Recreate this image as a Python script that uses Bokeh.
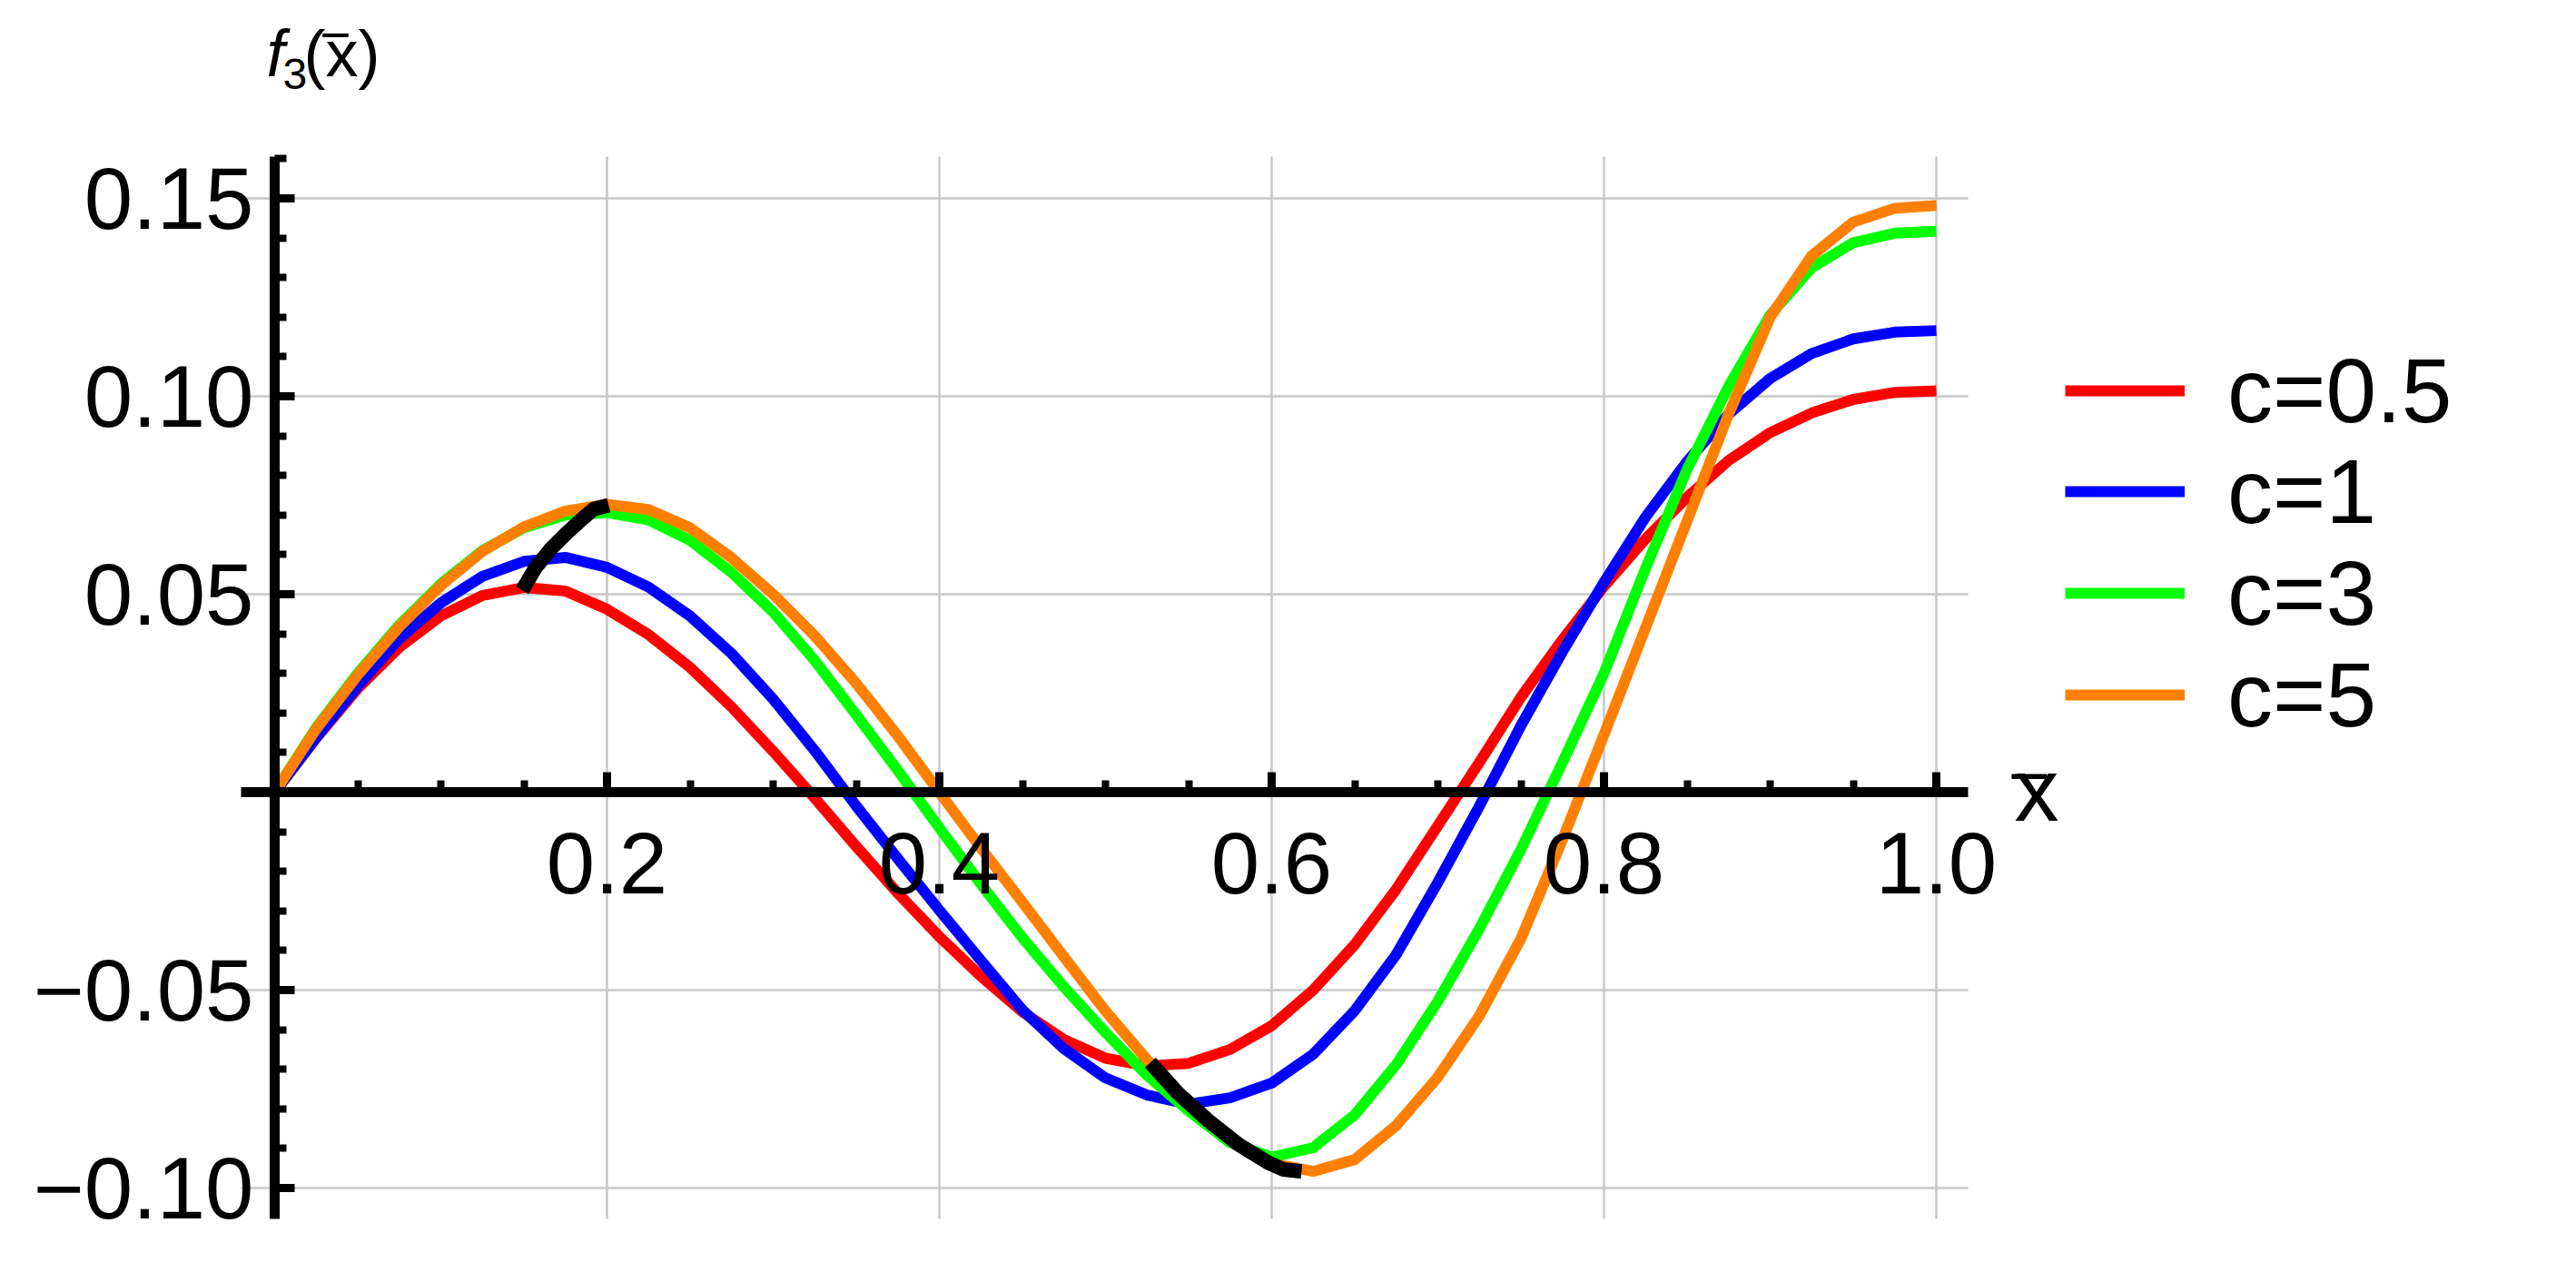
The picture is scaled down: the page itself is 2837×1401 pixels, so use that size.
from bokeh.plotting import figure
from bokeh.models import FixedTicker, Label, Legend, LegendItem, Range1d, Grid
from bokeh.embed import file_html
from bokeh.resources import INLINE

# ---------------- data ----------------
xs = [0.0, 0.025, 0.05, 0.075, 0.1, 0.125, 0.15, 0.175, 0.2, 0.225,
      0.25, 0.275, 0.3, 0.325, 0.35, 0.375, 0.4, 0.425, 0.45, 0.475,
      0.5, 0.525, 0.55, 0.575, 0.6, 0.625, 0.65, 0.675, 0.7, 0.725,
      0.75, 0.775, 0.8, 0.825, 0.85, 0.875, 0.9, 0.925, 0.95, 0.975, 1.0]

f_c05 = [0.0, 0.0137, 0.0262, 0.0366, 0.0445, 0.0497, 0.0517, 0.0508, 0.0462, 0.0398,
         0.0315, 0.0215, 0.0103, -0.0015, -0.0137, -0.0255, -0.0365, -0.0465, -0.0555, -0.0625,
         -0.0672, -0.0692, -0.0685, -0.0650, -0.0590, -0.0500, -0.0385, -0.0245, -0.0085, 0.0075,
         0.0240, 0.0385, 0.0520, 0.0640, 0.0745, 0.0838, 0.0908, 0.0958, 0.0992, 0.1010, 0.1014]

f_c1 = [0.0, 0.0138, 0.0268, 0.0388, 0.0478, 0.0545, 0.0583, 0.0593, 0.0568, 0.0518,
        0.0445, 0.0350, 0.0235, 0.0105, -0.0035, -0.0168, -0.0298, -0.0425, -0.0550, -0.0648,
        -0.0722, -0.0765, -0.0788, -0.0772, -0.0735, -0.0662, -0.0552, -0.0410, -0.0228, -0.0035,
        0.0168, 0.0355, 0.0530, 0.0695, 0.0835, 0.0955, 0.1045, 0.1108, 0.1145, 0.1162, 0.1166]

f_c3 = [0.0, 0.0163, 0.0300, 0.0422, 0.0526, 0.0610, 0.0668, 0.0700, 0.0706, 0.0688,
        0.0636, 0.0555, 0.0455, 0.0333, 0.0195, 0.0055, -0.0090, -0.0232, -0.0368, -0.0492,
        -0.0607, -0.0715, -0.0805, -0.0885, -0.0922, -0.0898, -0.0815, -0.0688, -0.0528, -0.0345,
        -0.0145, 0.0075, 0.0300, 0.0565, 0.0815, 0.1025, 0.1205, 0.1325, 0.1388, 0.1412, 0.1417]

f_c5 = [0.0, 0.0160, 0.0296, 0.0418, 0.0522, 0.0608, 0.0670, 0.0710, 0.0727, 0.0714,
        0.0668, 0.0592, 0.0500, 0.0395, 0.0275, 0.0142, 0.0, -0.0141, -0.0278, -0.0416,
        -0.0553, -0.0676, -0.0788, -0.0876, -0.0938, -0.0958, -0.0928, -0.0842, -0.0720, -0.0565,
        -0.0370, -0.0120, 0.0145, 0.0415, 0.0685, 0.0955, 0.1200, 0.1355, 0.1440, 0.1475, 0.1482]

# black loci of the extrema
max_locus_x = [0.149, 0.157, 0.1665, 0.1756, 0.1847, 0.192, 0.201]
max_locus_y = [0.0510, 0.0567, 0.0616, 0.0654, 0.0689, 0.0715, 0.0725]
min_locus_x = [0.527, 0.5435, 0.5617, 0.580, 0.598, 0.607, 0.618]
min_locus_y = [-0.0683, -0.0760, -0.0829, -0.0890, -0.0936, -0.0953, -0.0958]

series_labels = ["c=0.5", "c=1", "c=3", "c=5"]
series_colors = ["#ff0000", "#0000ff", "#00ff00", "#ff8000"]

x_ticks = [0.2, 0.4, 0.6, 0.8, 1.0]
x_tick_labels = ["0.2", "0.4", "0.6", "0.8", "1.0"]
y_ticks = [-0.10, -0.05, 0.05, 0.10, 0.15]
y_tick_labels = ["\u22120.10", "\u22120.05", "0.05", "0.10", "0.15"]

# plot region (extent of axes and grid lines)
x_lo, x_hi = -0.0202, 1.019
y_lo, y_hi = -0.1078, 0.1606

FONT = "Liberation Sans"
FS = "96px"
LEG_FS = "100px"

W, H = 2829, 1393
# 1830 px per unit in x (origin at 302 px), 4360 px per unit in y (origin at 872 px)
p = figure(width=W, height=H, output_backend="svg", toolbar_location=None,
           x_range=Range1d(-302 / 1830.0, (W - 302) / 1830.0),
           y_range=Range1d((872 - H) / 4360.0, 872 / 4360.0),
           min_border=0, min_border_left=0, min_border_right=0,
           min_border_top=0, min_border_bottom=0, title=None)
p.outline_line_color = None
p.background_fill_color = "white"
p.border_fill_color = "white"

x_minor = [round(0.05 * i, 2) for i in range(1, 21) if i % 4 != 0]
y_minor = [round(0.01 * i, 2) for i in range(-10, 17) if i % 5 != 0]

for ax in (p.xaxis[0], p.yaxis[0]):
    ax.fixed_location = 0
    ax.axis_line_width = 11
    ax.axis_line_color = "black"
    ax.major_tick_in = 22
    ax.major_tick_out = 0
    ax.minor_tick_in = 13
    ax.minor_tick_out = 0
    ax.major_tick_line_width = 9
    ax.minor_tick_line_width = 8
    ax.major_tick_line_color = "black"
    ax.minor_tick_line_color = "black"
    ax.major_label_text_font = FONT
    ax.major_label_text_font_size = FS
    ax.major_label_text_color = "black"

p.xaxis[0].bounds = (x_lo, x_hi)
p.yaxis[0].bounds = (y_lo, y_hi)
p.xaxis[0].ticker = FixedTicker(ticks=x_ticks, minor_ticks=x_minor)
p.yaxis[0].ticker = FixedTicker(ticks=y_ticks, minor_ticks=y_minor)
p.xaxis[0].major_label_overrides = dict(zip(x_ticks, x_tick_labels))
p.yaxis[0].major_label_overrides = dict(zip(y_ticks, y_tick_labels))
p.xaxis[0].major_label_standoff = 44
p.yaxis[0].major_label_standoff = 23

GRID_COLOR = "#c8c8c8"
GRID_W = 2.5
has_cross = "cross_bounds" in Grid.properties()
if has_cross:
    p.xgrid[0].ticker = FixedTicker(ticks=x_ticks)
    p.ygrid[0].ticker = FixedTicker(ticks=y_ticks)
    p.xgrid[0].cross_bounds = (y_lo, y_hi)
    p.ygrid[0].cross_bounds = (x_lo, x_hi)
    for g in (p.xgrid[0], p.ygrid[0]):
        g.grid_line_color = GRID_COLOR
        g.grid_line_width = GRID_W
        g.level = "image"
else:
    p.xgrid.visible = False
    p.ygrid.visible = False
    p.segment(x0=x_ticks, y0=[y_lo] * len(x_ticks), x1=x_ticks, y1=[y_hi] * len(x_ticks),
              line_color=GRID_COLOR, line_width=GRID_W, level="image")
    p.segment(x0=[x_lo] * len(y_ticks), y0=y_ticks, x1=[x_hi] * len(y_ticks), y1=y_ticks,
              line_color=GRID_COLOR, line_width=GRID_W, level="image")

# ---------------- curves ----------------
renderers = []
for ys, col in zip([f_c05, f_c1, f_c3, f_c5], series_colors):
    r = p.line(xs, ys, line_color=col, line_width=12, line_join="round")
    renderers.append(r)

p.line(max_locus_x, max_locus_y, line_color="black", line_width=16, line_join="round")
p.line(min_locus_x, min_locus_y, line_color="black", line_width=16, line_join="round")

# ---------------- legend (one entry per row, rows 111.7 px apart) ----------------
ITEM_H = 170
row_centers = [430, 541, 653, 765]
for lab_txt, r, c in zip(series_labels, renderers, row_centers):
    lg = Legend(items=[LegendItem(label=lab_txt, renderers=[r])],
                location=(2274, H - (c + ITEM_H // 2)), orientation="vertical",
                glyph_width=132, glyph_height=ITEM_H, label_height=ITEM_H,
                label_standoff=47, spacing=0, padding=0, margin=0,
                label_text_font=FONT, label_text_font_size=LEG_FS, label_text_color="black",
                border_line_color=None, background_fill_alpha=0)
    p.add_layout(lg)

# ---------------- axis labels ----------------
def lab(x, y, text, size=FS, style="normal"):
    p.add_layout(Label(x=x, y=y, text=text, text_font=FONT, text_font_size=size,
                       text_font_style=style, text_color="black",
                       text_align="left", text_baseline="alphabetic"))

# f_3( x-bar ) above the vertical axis
lab(-0.004918, 0.18647, "f", size="72px", style="italic")
lab(0.004918, 0.18142, "3", size="48px")
lab(0.017486, 0.18647, "(x)", size="72px")
lab(0.030, 0.18420, "\u203e", size="72px")

# x-bar at the right end of the horizontal axis
lab(1.047, 0.000459, "x", size="98px")
lab(1.047, -0.0055, "\u203e", size="98px")

open("out.html", "w").write(file_html(p, INLINE))
